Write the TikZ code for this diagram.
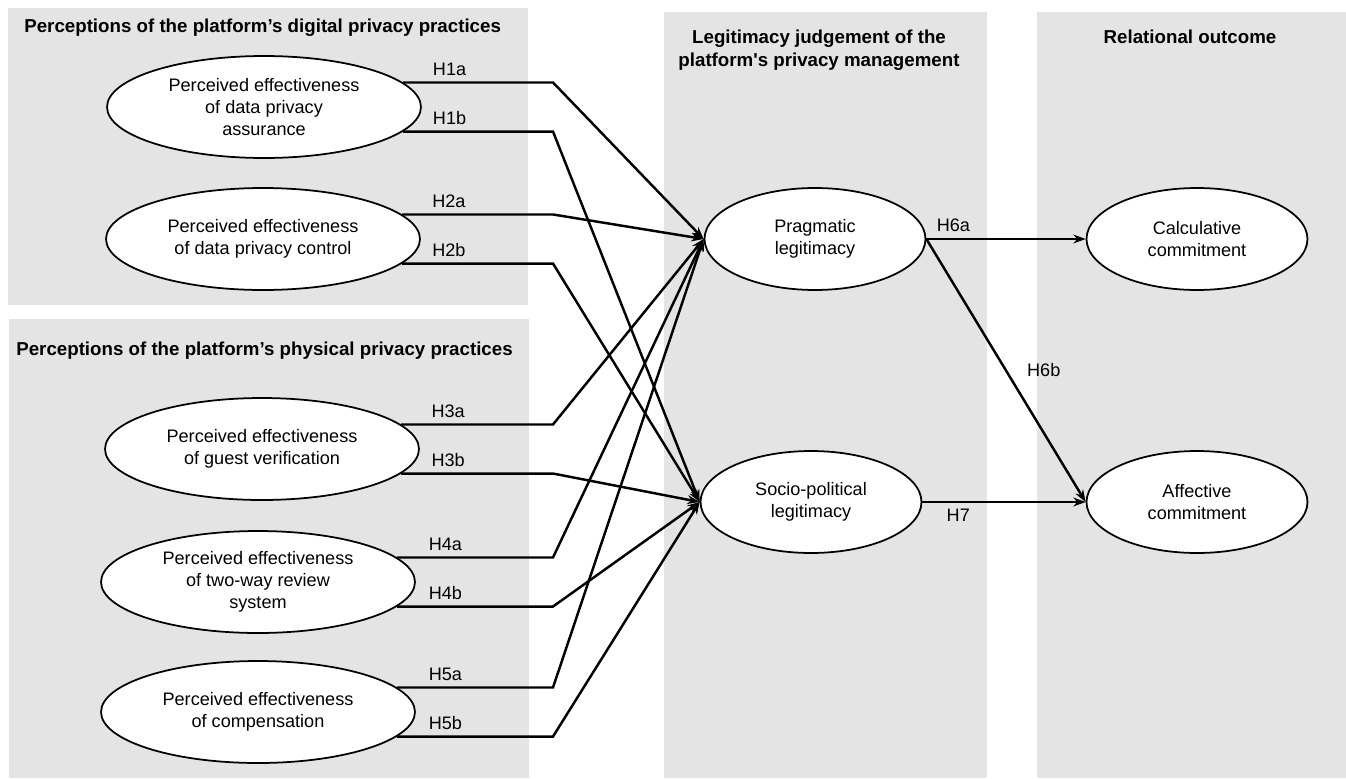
\documentclass[tikz,border=0pt]{standalone}
\usepackage{fontspec}
\setmainfont{Liberation Sans}
\usetikzlibrary{arrows.meta}
\usetikzlibrary{shapes.geometric}
\definecolor{panelgray}{RGB}{228,228,228}

\begin{document}
\begin{tikzpicture}[x=0.02cm, y=-0.02cm,
    every node/.style={font=\fontsize{10.3}{12.5}\selectfont},
    construct/.style={ellipse, draw, line width=1pt, fill=white, align=center, inner sep=0pt, minimum height=2.04cm},
    wide/.style={construct, minimum width=6.28cm},
    narrow/.style={construct, minimum width=4.42cm},
    title/.style={font=\fontsize{10.65}{12.6}\selectfont\bfseries, inner sep=0pt, align=center},
    link/.style={-{Stealth[length=7pt,width=5pt]}, line width=1.4pt},
    hyp/.style={above, pos=0.31}]
    \useasboundingbox (0,0) rectangle (1346,778);

    \fill[panelgray] (8,8) rectangle (528,305);
    \fill[panelgray] (9,319) rectangle (529,778);
    \fill[panelgray] (664,12) rectangle (987,778);
    \fill[panelgray] (1037,12) rectangle (1346,778);

    \node[title, anchor=base west] (tdigital) at (24,32) {Perceptions of the platform’s digital privacy practices};
    \node[title, anchor=base west] (tphysical) at (16,355) {Perceptions of the platform’s physical privacy practices};
    \node[title, anchor=north] (tlegit) at (819,30) {Legitimacy judgement of the\\platform\textquotesingle s privacy management};
    \node[title, anchor=base] (toutcome) at (1190,43) {Relational outcome};

    \node[wide] (e1) at (264,107) {Perceived effectiveness\\of data privacy\\assurance};
    \node[wide] (e2) at (263,239) {Perceived effectiveness\\of data privacy control};
    \node[wide] (e3) at (262,449) {Perceived effectiveness\\of guest verification};
    \node[wide] (e4) at (258,582) {Perceived effectiveness\\of two-way review\\system};
    \node[wide] (e5) at (258,712) {Perceived effectiveness\\of compensation};

    \node[narrow] (prag) at (815,239) {Pragmatic\\legitimacy};
    \node[narrow] (socio) at (811,502) {Socio-political\\legitimacy};
    \node[narrow] (calc) at (1197,239) {Calculative\\commitment};
    \node[narrow] (affect) at (1197,502) {Affective\\commitment};

    \coordinate (bend) at (553,0);

    \foreach \n in {1,...,5} {
        \draw[link] (e\n.10) -- node[hyp] (h\n a) {H\n a} (e\n.10 -| bend) -- (prag.west);
        \draw[link] (e\n.-10) -- node[hyp] (h\n b) {H\n b} (e\n.-10 -| bend) -- (socio.west);
    }

    \draw[link] (prag.east) -- node[above, pos=0.17] (h6a) {H6a} (calc.west);
    \draw[link] (prag.east) -- node[right=8pt, pos=0.5] (h6b) {H6b} (affect.west);
    \draw[link] (socio.east) -- node[below, pos=0.22] (h7) {H7} (affect.west);
\end{tikzpicture}
\end{document}
